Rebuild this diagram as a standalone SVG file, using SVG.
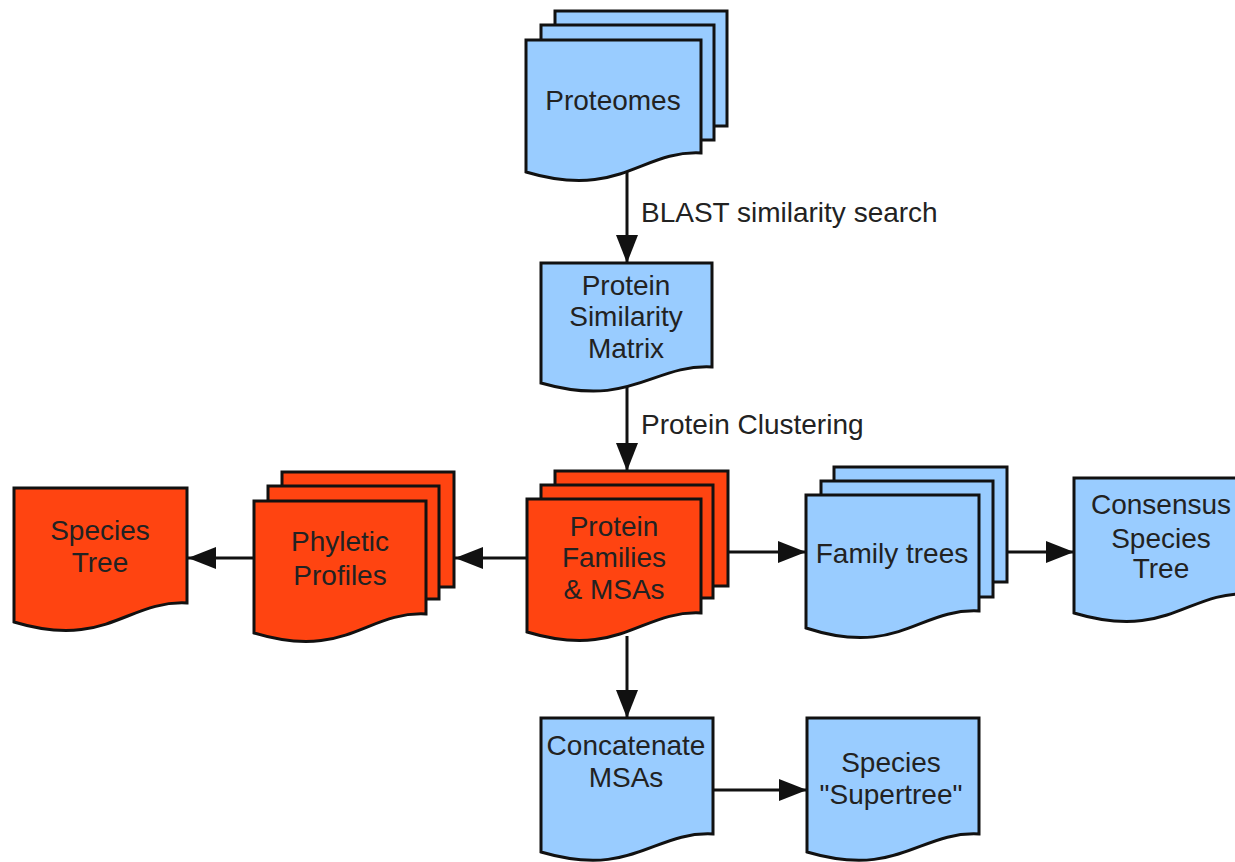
<svg xmlns="http://www.w3.org/2000/svg" width="1235" height="862" viewBox="0 0 1235 862">
<style>
.b{fill:#99CCFF;stroke:#111;stroke-width:3;stroke-linejoin:miter}
.r{fill:#FF4411;stroke:#111;stroke-width:3;stroke-linejoin:miter}
text{font-family:"Liberation Sans",Arial,sans-serif;font-size:28px;fill:#222}
.c{text-anchor:middle}
.e{fill:none;stroke:#111;stroke-width:3}
</style>
<defs>
<marker id="ah" markerUnits="userSpaceOnUse" markerWidth="28" markerHeight="22" refX="28" refY="11" orient="auto">
<path d="M0,0 L28,11 L0,22 z" fill="#111"/>
</marker>
</defs>
<rect width="1235" height="862" fill="#fff"/>
<g id="connectors">
<path class="e" d="M627,172 V263" marker-end="url(#ah)"/>
<path class="e" d="M627,384 V471" marker-end="url(#ah)"/>
<path class="e" d="M527,558 H455" marker-end="url(#ah)"/>
<path class="e" d="M254,558 H188" marker-end="url(#ah)"/>
<path class="e" d="M728,552 H806" marker-end="url(#ah)"/>
<path class="e" d="M1007,552 H1074" marker-end="url(#ah)"/>
<path class="e" d="M627,636 V718" marker-end="url(#ah)"/>
<path class="e" d="M713,790 H807" marker-end="url(#ah)"/>
<text x="641" y="222">BLAST similarity search</text>
<text x="641" y="434">Protein Clustering</text>
</g>
<g id="proteomes">
<rect class="b" x="555" y="11" width="172" height="115"/>
<rect class="b" x="541" y="25" width="173" height="115"/>
<path class="b" d="M526,40 h175 v113 c-60,-3 -81,47 -175,19 z"/>
<text class="c" x="613" y="110">Proteomes</text>
</g>
<g id="protein-similarity-matrix">
<path class="b" d="M541,263 h171 v104 c-60,-3 -80,42 -171,16 z"/>
<text class="c" x="626" y="295">Protein</text>
<text class="c" x="626" y="326">Similarity</text>
<text class="c" x="626" y="358">Matrix</text>
</g>
<g id="protein-families">
<rect class="r" x="555" y="471" width="173" height="115"/>
<rect class="r" x="541" y="485" width="172" height="113"/>
<path class="r" d="M527,499 h174 v114 c-60,-3 -81,47 -174,19 z"/>
<text class="c" x="614" y="536">Protein</text>
<text class="c" x="614" y="567">Families</text>
<text class="c" x="614" y="599">&amp; MSAs</text>
</g>
<g id="phyletic-profiles">
<rect class="r" x="282" y="472" width="172" height="115"/>
<rect class="r" x="268" y="486" width="171" height="113"/>
<path class="r" d="M254,501 h172 v113 c-60,-3 -80,47 -172,19 z"/>
<text class="c" x="340" y="551">Phyletic</text>
<text class="c" x="340" y="585">Profiles</text>
</g>
<g id="species-tree">
<path class="r" d="M14,488 h173 v115 c-60,-3 -81,47 -173,19 z"/>
<text class="c" x="100" y="540">Species</text>
<text class="c" x="100" y="572">Tree</text>
</g>
<g id="family-trees">
<rect class="b" x="834" y="467" width="173" height="115"/>
<rect class="b" x="821" y="481" width="172" height="116"/>
<path class="b" d="M806,495 h173 v116 c-60,-3 -81,47 -173,17 z"/>
<text class="c" x="892" y="563">Family trees</text>
</g>
<g id="consensus-species-tree">
<path class="b" d="M1074,478 h174 v116 c-60,-3 -81,47 -174,19 z"/>
<text class="c" x="1161" y="514">Consensus</text>
<text class="c" x="1161" y="548">Species</text>
<text class="c" x="1161" y="578">Tree</text>
</g>
<g id="concatenate-msas">
<path class="b" d="M541,718 h172 v116 c-60,-3 -80,45 -172,18 z"/>
<text class="c" x="626" y="755">Concatenate</text>
<text class="c" x="626" y="787">MSAs</text>
</g>
<g id="species-supertree">
<path class="b" d="M807,718 h172 v116 c-60,-3 -80,45 -172,18 z"/>
<text class="c" x="891" y="772">Species</text>
<text class="c" x="891" y="804">"Supertree"</text>
</g>
</svg>
